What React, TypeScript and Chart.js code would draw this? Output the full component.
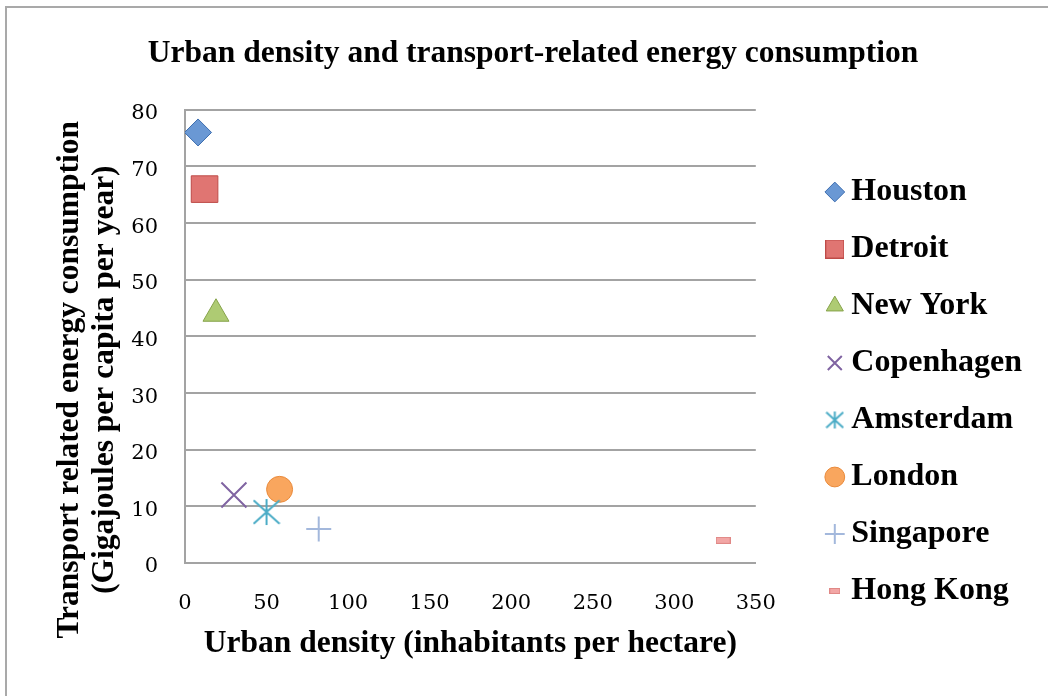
import React, { useEffect, useRef } from 'react';
import { Chart, registerables } from 'chart.js';

Chart.register(...registerables);

// ---- data ----
const cities = ['Houston', 'Detroit', 'New York', 'Copenhagen', 'Amsterdam', 'London', 'Singapore', 'Hong Kong'];
const density = [8, 12, 19, 30, 50, 58, 82, 330];
const energy = [76, 66, 44, 12, 9, 13, 6, 4];

const chartTitle = 'Urban density and transport-related energy consumption';
const xTitle = 'Urban density (inhabitants per hectare)';
const yTitleLines = ['Transport related energy consumption', '(Gigajoules per capita per year)'];
const xMax = 350;
const xStep = 50;
const yMax = 80;
const yStep = 10;

// ---- styles ----
const fills = ['#6A98D4', '#E07572', '#AECB73', '#8064A2', '#4BACC6', '#F9A65E', '#A3B8DC', '#F2A6A5'];
const borders = ['#3F6FB0', '#BE4B48', '#86A34A', '#8064A2', '#4BACC6', '#E98A3B', '#A3B8DC', '#E08886'];
const radii = [13.5, 18.8, 15, 17.7, 14, 13, 12.5, 8];
const borderWidths = [1, 1, 1, 2, 2, 1, 2, 1];
const gridColor = '#A3A3A3';
const serifBold = { family: '"Liberation Serif", "Times New Roman", serif', weight: 'bold' as const };
const tickFont = { family: '"DejaVu Serif", serif', size: 21 };

function makeCanvas(w: number, h: number, draw: (c: CanvasRenderingContext2D) => void) {
  const c = document.createElement('canvas');
  c.width = w;
  c.height = h;
  const ctx = c.getContext('2d')!;
  draw(ctx);
  return c;
}

function asterisk(size: number, color: string, lw: number) {
  return makeCanvas(size, size, (ctx) => {
    const c = size / 2;
    const r = size / 2 - 1;
    ctx.strokeStyle = color;
    ctx.lineWidth = lw;
    ctx.beginPath();
    ctx.moveTo(c, c - r);
    ctx.lineTo(c, c + r);
    ctx.moveTo(c - r, c - r * 0.9);
    ctx.lineTo(c + r, c + r * 0.9);
    ctx.moveTo(c - r, c + r * 0.9);
    ctx.lineTo(c + r, c - r * 0.9);
    ctx.stroke();
  });
}

function bar(w: number, h: number, fill: string, stroke: string) {
  return makeCanvas(w, h, (ctx) => {
    ctx.fillStyle = fill;
    ctx.fillRect(0, 0, w, h);
    ctx.strokeStyle = stroke;
    ctx.lineWidth = 1;
    ctx.strokeRect(0.5, 0.5, w - 1, h - 1);
  });
}

export default function App() {
  const ref = useRef<HTMLCanvasElement>(null);

  useEffect(() => {
    const canvas = ref.current;
    if (!canvas) return;

    const plotStyles: any[] = [
      'rectRot',
      'rect',
      'triangle',
      'crossRot',
      asterisk(28, borders[4], 2),
      'circle',
      'cross',
      bar(15, 7, fills[7], borders[7]),
    ];
    const legendStyles: any[] = [
      null,
      bar(19, 19, fills[1], borders[1]),
      null,
      null,
      asterisk(19, borders[4], 2),
      null,
      null,
      bar(11, 6, fills[7], borders[7]),
    ];

    const datasets = cities.map((name, i) => ({
      label: name,
      data: [{ x: density[i], y: energy[i] }],
      pointStyle: plotStyles[i],
      pointRadius: radii[i],
      pointHoverRadius: radii[i],
      backgroundColor: fills[i],
      borderColor: borders[i],
      borderWidth: borderWidths[i],
      showLine: false,
    }));

    const chart = new Chart(canvas, {
      type: 'scatter',
      data: { datasets },
      options: {
        responsive: false,
        animation: false,
        layout: { padding: { left: 34, right: 16, top: 0, bottom: 0 } },
        plugins: {
          title: {
            display: true,
            text: chartTitle,
            color: '#000',
            font: { ...serifBold, size: 31.5 },
            padding: { top: 35, bottom: 37 },
          },
          legend: {
            position: 'right',
            maxWidth: 400,
            title: {
              display: true,
              text: ' ',
              font: { size: 10, lineHeight: 1.2 },
              padding: { top: 75, bottom: 0 },
            },
            labels: {
              usePointStyle: true,
              boxWidth: 1,
              boxHeight: 14,
              padding: 25,
              color: '#000',
              font: { ...serifBold, size: 32 },
              generateLabels: (ch: any) => {
                const items = (Chart.defaults as any).plugins.legend.labels.generateLabels(ch);
                return items.map((it: any, i: number) =>
                  legendStyles[i] ? { ...it, pointStyle: legendStyles[i] } : it
                );
              },
            },
          },
          tooltip: { enabled: false },
        },
        scales: {
          x: {
            type: 'linear',
            position: 'bottom',
            min: 0,
            max: xMax,
            ticks: { stepSize: xStep, padding: 20, color: '#000', font: tickFont },
            grid: { display: false },
            border: { display: true, color: gridColor, width: 2 },
            title: {
              display: true,
              text: xTitle,
              color: '#000',
              font: { ...serifBold, size: 31.5 },
              padding: { top: 6, bottom: 33 },
            },
            afterFit: (s: any) => {
              s.height = 133;
            },
          },
          y: {
            type: 'linear',
            position: 'left',
            min: 0,
            max: yMax,
            ticks: { stepSize: yStep, padding: 27, labelOffset: 4, color: '#000', font: tickFont },
            grid: { color: gridColor, lineWidth: 2, drawTicks: false },
            border: { display: true, color: gridColor, width: 2 },
            title: {
              display: true,
              text: yTitleLines.map((t) => t + '           '),
              color: '#000',
              font: { ...serifBold, size: 31.5, lineHeight: 35 / 31.5 },
              padding: { top: 18.5, bottom: 8 },
            },
            afterFit: (s: any) => {
              s.width = 151;
            },
          },
          gap: {
            type: 'linear',
            position: 'right',
            display: true,
            grid: { display: false },
            border: { display: false },
            ticks: { display: false },
            afterFit: (s: any) => {
              s.width = 53.5;
            },
          },
        },
      } as any,
    });

    return () => chart.destroy();
  }, []);

  return (
    <div
      style={{
        position: 'absolute',
        left: 0,
        top: 0,
        width: 1048,
        height: 696,
        overflow: 'hidden',
        background: '#fff',
      }}
    >
      <div
        style={{
          position: 'absolute',
          left: 5,
          top: 6,
          width: 1200,
          height: 800,
          border: '2px solid #A9A9A9',
        }}
      />
      <canvas
        ref={ref}
        width={1048}
        height={696}
        style={{ position: 'absolute', left: 0, top: 0, width: 1048, height: 696 }}
      />
    </div>
  );
}
